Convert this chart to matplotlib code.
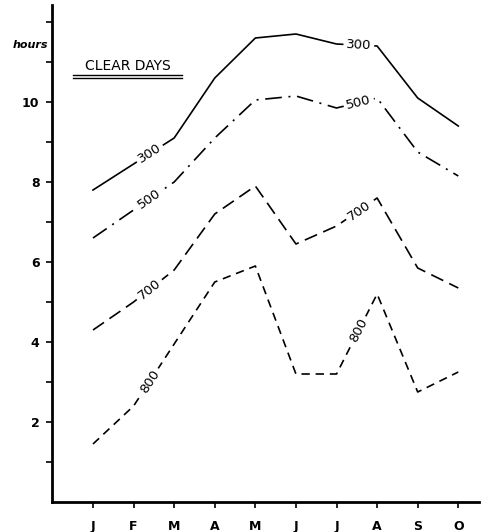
"""Monthly sunshine hours on clear days at several heights"""

import numpy as np
import matplotlib.pyplot as plt

months = ["J", "F", "M", "A", "M", "J", "J", "A", "S", "O"]

hours_300 = [7.8, 8.45, 9.1, 10.6, 11.6, 11.7, 11.45, 11.4, 10.1, 9.4]
hours_500 = [6.6, 7.3, 8.0, 9.1, 10.05, 10.15, 9.85, 10.1, 8.75, 8.15]
hours_700 = [4.3, 5.0, 5.8, 7.2, 7.9, 6.45, 6.9, 7.6, 5.85, 5.35]
hours_800 = [1.45, 2.4, 3.95, 5.5, 5.9, 3.2, 3.2, 5.2, 2.75, 3.25]

levels = ["300", "500", "700", "800"]
series = [hours_300, hours_500, hours_700, hours_800]
dashes = [None, (10, 4, 1.2, 4), (8, 4), (5, 3.5)]

# where the level numbers sit along each curve (month index)
label_at = [1.4, 6.55]

fig = plt.figure(figsize=(4.83, 5.32), dpi=100)
ax = fig.add_axes([52 / 483, 30 / 532, 427 / 483, 497 / 532])

x = np.arange(len(months))
for level, vals, dash in zip(levels, series, dashes):
    (line,) = ax.plot(x, vals, color="black", lw=1.2)
    if dash is not None:
        line.set_dashes(dash)
    for pos in label_at:
        y = np.interp(pos, x, vals)
        i = int(pos)
        angle = np.degrees(np.arctan2(vals[i + 1] - vals[i], 1.0))
        ax.text(
            pos, y, level, ha="center", va="center", fontsize=9.5,
            rotation=angle, rotation_mode="anchor", transform_rotates_text=True,
            bbox=dict(facecolor="white", edgecolor="none", pad=2),
            zorder=3,
        )

ax.set_xlim(-1.01, 9.51)
ax.set_ylim(0, 12.425)

ax.set_xticks(x)
ax.set_xticklabels(months, fontsize=9, fontweight="bold")
ax.set_yticks(np.arange(1, 13))
ax.set_yticklabels(
    [str(v) if v % 2 == 0 and v < 12 else "" for v in range(1, 13)],
    fontsize=9, fontweight="bold",
)
ax.tick_params(axis="x", length=4, width=1.2, pad=9)
ax.tick_params(axis="y", length=4, width=1.2, pad=5)

for side in ["top", "right"]:
    ax.spines[side].set_visible(False)
for side in ["left", "bottom"]:
    ax.spines[side].set_linewidth(2)

fig.text(30 / 483, 1 - 45 / 532, "hours", ha="center", va="center",
         fontsize=8, fontweight="bold", style="italic")

fig.text(128 / 483, 1 - 66 / 532, "CLEAR DAYS", ha="center", va="center",
         fontsize=10)
for yy in [75, 77.5]:
    fig.add_artist(plt.Line2D([73 / 483, 182 / 483], [1 - yy / 532] * 2,
                              color="black", lw=1.0))

fig.savefig("out.png", dpi=100, facecolor="w")
